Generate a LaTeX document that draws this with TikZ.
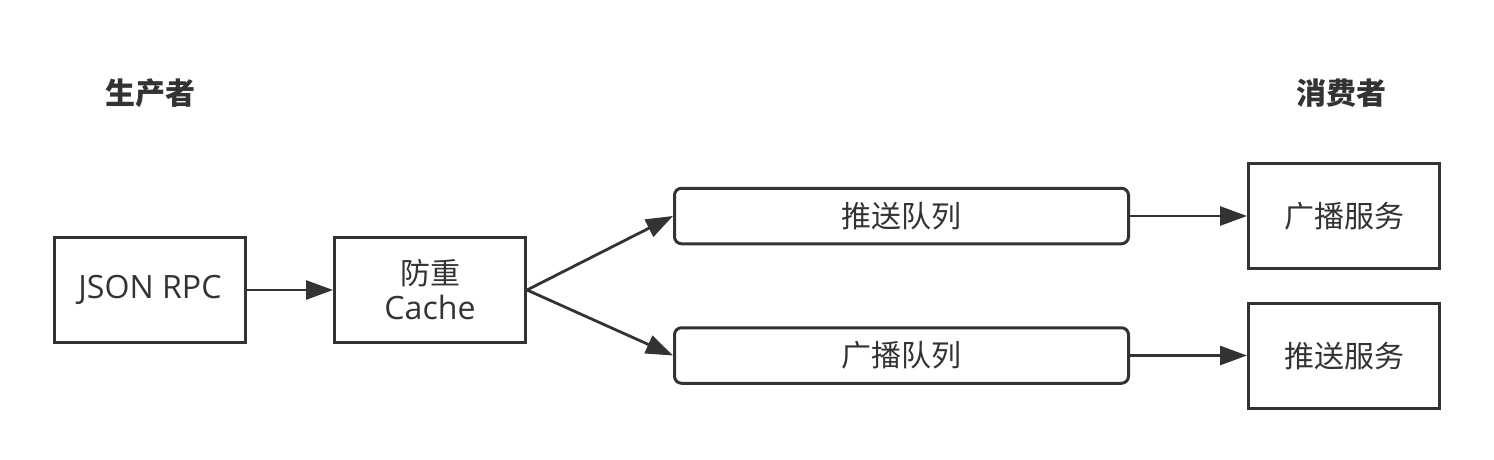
\documentclass[tikz,border=0pt]{standalone}
\usepackage{fontspec}
\setmainfont{Open Sans}[Scale=1.07]
\newfontfamily\cjk{Noto Sans CJK SC}
\usetikzlibrary{arrows.meta}
\definecolor{ink}{HTML}{333333}
\begin{document}
\begin{tikzpicture}[x=0.5pt,y=-0.5pt,
  every node/.style={text=ink,font=\fontsize{15pt}{17.5pt}\selectfont},
  box/.style={draw=ink,line width=1.5pt,minimum width=95.5pt,minimum height=52.5pt,inner sep=0pt,align=center},
  queue/.style={draw=ink,line width=1.5pt,rounded corners=3.5pt,minimum width=227pt,minimum height=27.75pt,inner sep=0pt},
  title/.style={font=\fontsize{15pt}{17.5pt}\selectfont\cjk\bfseries},
  conn/.style={draw=ink,line width=1.4pt,-{Triangle[length=13.5pt,width=9.5pt]}}]
\useasboundingbox (0,0) rectangle (1494,460);
\node[title] (tp) at (150,93) {生产者};
\node[title] (tc) at (1341,93) {消费者};
\node[box] (rpc) at (150,290) {JSON RPC};
\node[box] (cache) at (430,290) {{\cjk 防重}\\Cache};
\node[queue] (q1) at (901.5,216) {\cjk 推送队列};
\node[queue] (q2) at (901.5,355.5) {\cjk 广播队列};
\node[box] (s1) at (1344,216) {\cjk 广播服务};
\node[box] (s2) at (1344,356) {\cjk 推送服务};
\draw[conn] (rpc.east) -- (cache.west);
\draw[conn] (cache.east) -- (q1.west);
\draw[conn] (cache.east) -- (q2.west);
\draw[conn] (q1.east) -- (q1.east -| s1.west);
\draw[conn] (q2.east) -- (q2.east -| s2.west);
\end{tikzpicture}
\end{document}
